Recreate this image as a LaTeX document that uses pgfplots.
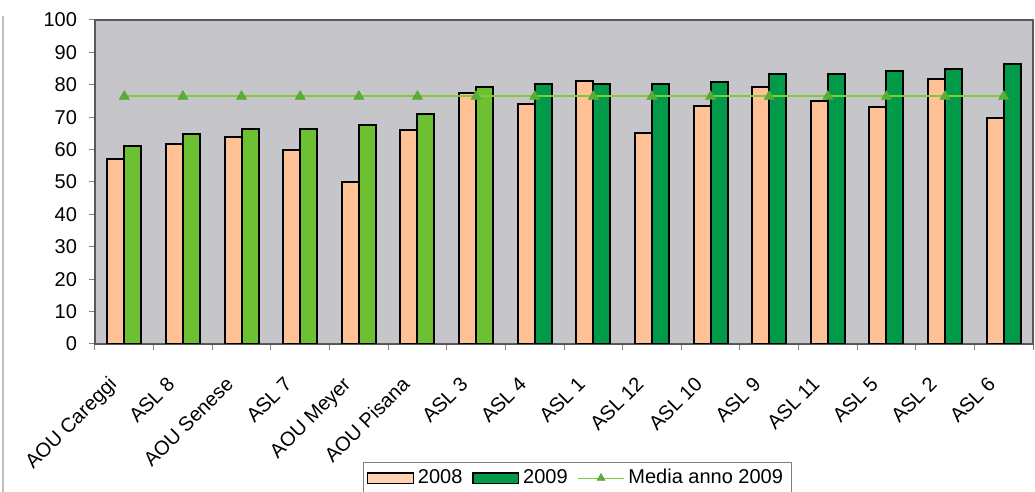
\documentclass[border=0pt]{standalone}
\usepackage{fontspec}
\setmainfont{Liberation Sans}
\usepackage{pgfplots}
\pgfplotsset{compat=1.18}
\definecolor{peach}{HTML}{FFC196}
\definecolor{lgreen}{HTML}{6CC032}
\definecolor{dgreen}{HTML}{009A48}
\definecolor{mline}{HTML}{86C83C}
\definecolor{bg}{HTML}{C6C6CA}
\pgfplotsset{
  rectlegend/.style={legend image code/.code={\draw[##1, line width=0.6pt] (0cm,-0.09cm) rectangle (0.8cm,0.09cm);}},
  peachlegend/.style={legend image code/.code={\draw[##1, line width=0.6pt, fill=peach!70!white] (0cm,-0.09cm) rectangle (0.8cm,0.09cm);}},
  mylinelegend/.style={legend image code/.code={\draw[##1, mark repeat=2, mark phase=2, line width=0.6pt, mark size=2.2pt] plot coordinates {(0cm,0cm) (0.4cm,0cm) (0.8cm,0cm)};}},
}
\begin{document}
\begin{tikzpicture}
\begin{axis}[
  name=ax,
  scale only axis,
  width=469pt, height=162pt,
  xmin=-0.5, xmax=15.5,
  ymin=0, ymax=100,
  bar width=8.5pt,
  axis background/.style={fill=bg},
  axis line style={gray!70!black, line width=0.7pt},
  xtick={0,...,15},
  major x tick style={draw=none},
  minor xtick={-0.5,0.5,...,15.5},
  minor x tick style={gray, line width=0.5pt},
  minor tick length=3pt,
  xticklabels={AOU Careggi,ASL 8,AOU Senese,ASL 7,AOU Meyer,AOU Pisana,ASL 3,ASL 4,ASL 1,ASL 12,ASL 10,ASL 9,ASL 11,ASL 5,ASL 2,ASL 6},
  xticklabel style={xshift=-8.5pt, yshift=-12.5pt, rotate=45, anchor=north east, inner sep=0pt, font=\fontsize{10}{11}\selectfont},
  ytick={0,10,...,100},
  yticklabel style={xshift=-2.5pt, font=\fontsize{10}{11}\selectfont},
  /pgf/number format/assume math mode=true,
  tick align=outside,
  ytick style={gray, line width=0.5pt},
  major tick length=3pt,
  ytick pos=left,
  xtick pos=bottom,
  legend style={at={(0.514,0)}, anchor=north, yshift=-59pt, legend columns=3, draw=gray, font=\fontsize{10}{11}\selectfont, inner xsep=2pt, inner ysep=1.5pt, /tikz/every even column/.append style={column sep=3pt}},
  legend cell align=left,
]
\addplot[ybar, fill=peach, draw=black, line width=1pt, bar shift=-4.25pt, peachlegend] coordinates {
 (0,57) (1,61.7) (2,63.8) (3,59.9) (4,50.1) (5,66) (6,77.6) (7,74) (8,81.2) (9,65) (10,73.6) (11,79.2) (12,75) (13,73.2) (14,81.7) (15,69.7)};
\addlegendentry{2008}
\addplot[ybar, fill=lgreen, draw=black, line width=1pt, bar shift=4.25pt, forget plot] coordinates {
 (0,61.1) (1,64.8) (2,66.3) (3,66.3) (4,67.6) (5,71) (6,79.2)};
\addplot[ybar, fill=dgreen, draw=black, line width=1pt, bar shift=4.25pt, rectlegend] coordinates {
 (7,80.4) (8,80.4) (9,80.4) (10,81) (11,83.2) (12,83.2) (13,84.3) (14,84.8) (15,86.3)};
\addlegendentry{2009}
\addplot[sharp plot, mline, line width=1pt, mark=triangle*, mark size=2.8pt, mark options={fill=lgreen!70!dgreen, draw=mline!80!black, line width=0.4pt}, mylinelegend] coordinates {
 (0,76.4) (1,76.4) (2,76.4) (3,76.4) (4,76.4) (5,76.4) (6,76.4) (7,76.4) (8,76.4) (9,76.4) (10,76.4) (11,76.4) (12,76.4) (13,76.4) (14,76.4) (15,76.4)};
\addlegendentry{Media anno 2009}
\end{axis}
\pgfresetboundingbox
\path[use as bounding box] ([xshift=-47.5pt,yshift=-74pt]ax.south west) rectangle ++(517.5pt,246pt);
\draw[gray!50, line width=0.8pt] ([xshift=-46pt,yshift=-74pt]ax.south west) -- ++(0pt,238pt);
\end{tikzpicture}
\end{document}
